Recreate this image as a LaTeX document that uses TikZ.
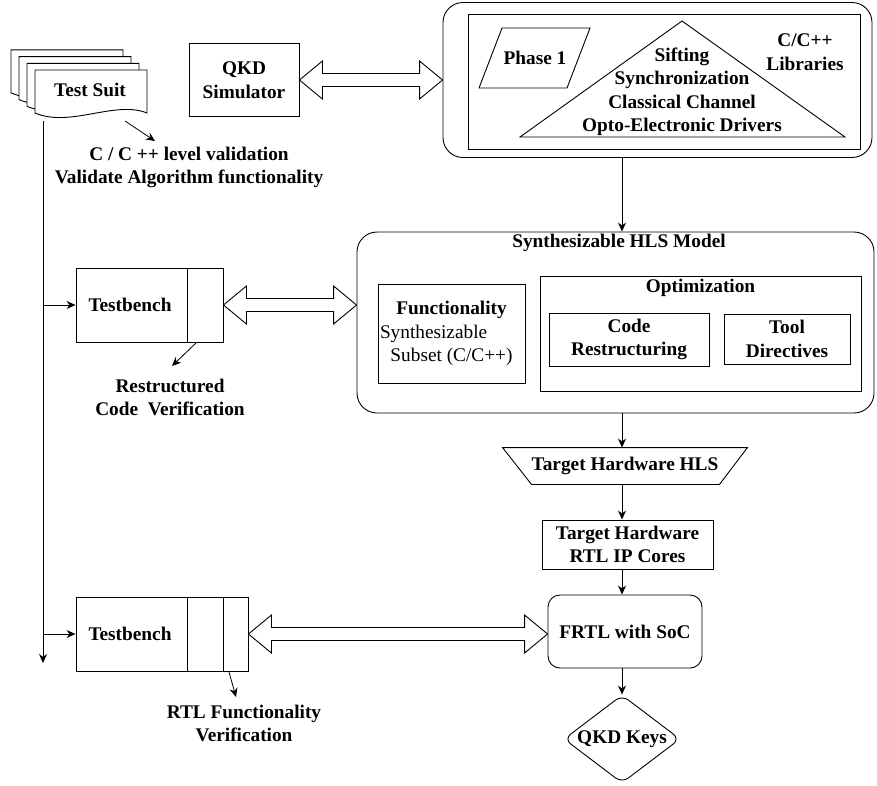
\documentclass[tikz,border=0pt]{standalone}
\usepackage{fontspec}
\setmainfont{Liberation Serif}
\usetikzlibrary{arrows.meta, positioning, calc, shapes.geometric}

% hollow two-headed arrow between two points at the same height
\newcommand{\fatarrow}[2]{%
  \draw[fill=white] (#1) -- ($(#1)+(23,-19)$) -- ($(#1)+(23,-6.5)$) -- ($(#2)+(-23,-6.5)$)
    -- ($(#2)+(-23,-19)$) -- (#2) -- ($(#2)+(-23,19)$) -- ($(#2)+(-23,6.5)$)
    -- ($(#1)+(23,6.5)$) -- ($(#1)+(23,19)$) -- cycle;}

\begin{document}
\begin{tikzpicture}[x=1pt, y=-1pt, line width=0.9pt,
  every node/.style={font=\fontsize{19.3}{23.5}\selectfont\bfseries, align=center},
  box/.style={draw, inner sep=0pt},
  rbox/.style={box, rounded corners=20pt},
  link/.style={-{Stealth[length=9pt, width=8pt]}}]
  \useasboundingbox (0,0) rectangle (877,785);

  % test suit stack
  \foreach \i in {3,2,1,0}
    \draw[fill=white, shift={(-8*\i,-6.7*\i)}] (35,70) -- (147,70) -- (147,113)
      .. controls (115,100) and (70,128) .. (35,113) -- cycle;
  \node (suit) at (90,90) {Test Suit};
  \node (cval) at (189,167.5) {C / C ++ level validation\\Validate Algorithm functionality};
  \coordinate (suitfoot) at (43,121);
  \coordinate (busend) at (43,663);
  \coordinate (suittip) at (125,121);
  \coordinate (cvaltip) at (155,141);
  \draw[link, line width=0.8pt] (suittip) -- (cvaltip);

  % simulator and libraries
  \node[box, minimum width=110pt, minimum height=73pt] (sim) at (244,80) {QKD\\Simulator};
  \node[rbox, minimum width=429pt, minimum height=155pt] (lib) at (657.5,80) {};
  \node[box, minimum width=392pt, minimum height=135pt] (libin) at (664,81.5) {};
  \draw (502,28) -- (590,28) -- (567,88) -- (479,88) -- cycle;
  \node (ph1) at (535,58) {Phase 1};
  \draw (682,21) -- (845,137) -- (520,137) -- cycle;
  \node (layers) at (682,92) {Sifting\\Synchronization\\Classical Channel\\Opto-Electronic Drivers};
  \node (clib) at (805,52) {C/C++\\Libraries};
  \fatarrow{sim.east}{lib.west}

  % HLS model
  \node[rbox, minimum width=517pt, minimum height=181pt] (hls) at (615.5,322.5) {};
  \node (hlstitle) at (619,243) {Synthesizable HLS Model};
  \node[box, minimum width=147pt, minimum height=99pt] (func) at (451.5,333.5)
    {Functionality\\{\mdseries\makebox[143pt][l]{Synthesizable}}\\{\mdseries Subset (C/C++)}};
  \node[box, minimum width=321pt, minimum height=115pt] (opt) at (700.5,333.5) {};
  \node (opttitle) at (700.5,288) {Optimization};
  \node[box, minimum width=160pt, minimum height=53pt] (code) at (629,339.5) {Code\\Restructuring};
  \node[box, minimum width=126pt, minimum height=50pt] (tool) at (787,339) {Tool\\Directives};

  % hardware flow
  \node[minimum width=244pt, minimum height=36pt, inner sep=0pt] (trg) at (625,466) {Target Hardware HLS};
  \draw (trg.north west) -- (trg.north east) -- ($(trg.south east)+(-28,0)$)
    -- ($(trg.south west)+(29,0)$) -- cycle;
  \node[box, minimum width=171pt, minimum height=49pt] (rtl) at (627.5,544.5) {Target Hardware\\RTL IP Cores};
  \node[box, rounded corners=12pt, minimum width=154pt, minimum height=73pt] (frtl) at (625,631.5) {FRTL with SoC};
  \node[box, diamond, aspect=1.32, rounded corners=8pt, minimum width=116pt, minimum height=88pt] (keys) at (622,739) {QKD Keys};
  \draw[link] (lib.south -| keys) -- (hls.north -| keys);
  \draw[link] (hls.south -| keys) -- (trg.north -| keys);
  \draw[link] (trg.south -| keys) -- (rtl.north -| keys);
  \draw[link] (rtl.south -| keys) -- (frtl.north -| keys);
  \draw[link] (frtl.south -| keys) -- (keys.north);

  % testbenches
  \node[box, minimum width=147pt, minimum height=74pt] (tb1) at (149.5,305) {Testbench\hspace*{39pt}};
  \draw ($(tb1.north east)+(-36,0)$) -- ($(tb1.south east)+(-36,0)$);
  \node[box, minimum width=172pt, minimum height=74pt] (tb2) at (162,634) {Testbench\hspace*{64pt}};
  \draw ($(tb2.north east)+(-61,0)$) -- ($(tb2.south east)+(-61,0)$);
  \draw ($(tb2.north east)+(-25,0)$) -- ($(tb2.south east)+(-25,0)$);
  \coordinate (hlsin) at (tb1.east -| hls.west);
  \fatarrow{tb1.east}{hlsin}
  \coordinate (frtlin) at (tb2.east -| frtl.west);
  \fatarrow{tb2.east}{frtlin}

  % test bus
  \draw[link] (suitfoot) -- (busend);
  \draw[link] (suitfoot |- tb1.west) -- (tb1.west);
  \draw[link] (suitfoot |- tb2.west) -- (tb2.west);

  % verification notes
  \node (rcv) at (170,397.5) {Restructured\\Code~ Verification};
  \node (rtlv) at (244,723.5) {RTL Functionality\\Verification};
  \coordinate (tb1tip) at (196,343);
  \coordinate (rcvtip) at (172,366);
  \coordinate (tb2tip) at (229,672);
  \coordinate (rtlvtip) at (236,697);
  \draw[link, line width=0.8pt] (tb1tip) -- (rcvtip);
  \draw[link, line width=0.8pt] (tb2tip) -- (rtlvtip);
\end{tikzpicture}
\end{document}
